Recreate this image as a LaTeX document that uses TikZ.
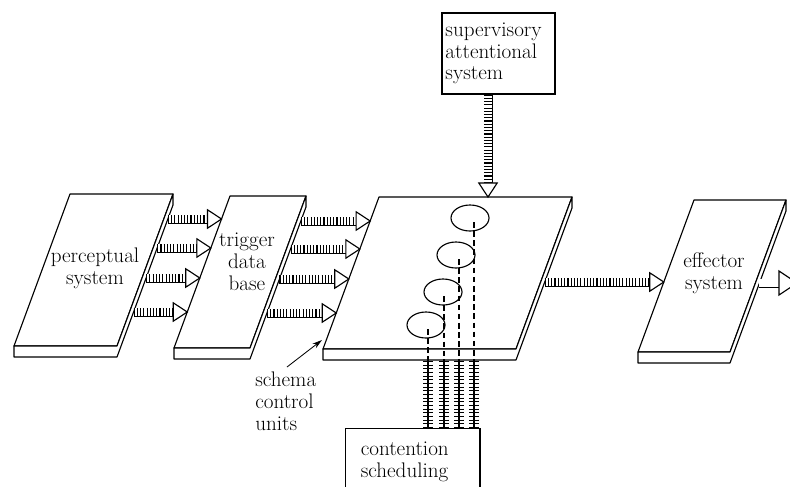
\documentclass[tikz,border=0pt]{standalone}
\usepackage{tikz}
\usetikzlibrary{arrows.meta, calc, shapes.geometric}

\tikzset{
  slabline/.style={line width=0.8pt, fill=white, line join=round},
  pipeline/.style={double distance=5pt, line width=0.7pt},
  pipeticks/.style={line width=5pt, dash pattern=on 0.8pt off 1.5pt},
  pipehead/.style={line width=0.8pt, fill=white, line join=miter},
  ladder/.style={line width=6.5pt, dash pattern=on 0.6pt off 2pt},
  unit/.style={ellipse, draw, line width=0.8pt, minimum width=0.95cm, minimum height=0.65cm, inner sep=0pt},
  box/.style={draw, line width=0.8pt, align=left, inner sep=0pt, font=\fontsize{15}{15.5}\selectfont},
  txt/.style={font=\fontsize{15}{15.5}\selectfont, align=center, inner sep=0pt},
}

% a flat board seen from above: name, x and y of the far left corner, width
\newcommand{\slab}[4]{%
  \coordinate (#1-tl) at (#2,#3);
  \coordinate (#1-tr) at (#2+#4,#3);
  \coordinate (#1-bl) at (#2-56,#3+152);
  \coordinate (#1-br) at (#2+#4-56,#3+152);
  \draw[slabline] (#1-tl) -- (#1-tr) -- (#1-br) -- (#1-bl) -- cycle;
  \draw[slabline] (#1-bl) -- ++(0,11) -- ($(#1-br)+(0,11)$) -- ($(#1-tr)+(0,11)$)
    -- (#1-tr) -- (#1-br) -- cycle;
}

% hatched pipe with an open head: from, tip
\newcommand{\pipe}[2]{%
  \coordinate (hb) at ($(#2)!0.35cm!(#1)$);
  \draw[pipeline] (#1) -- (hb);
  \draw[pipeticks] (#1) -- (hb);
  \draw[pipehead] ($(hb)!0.23cm!90:(#2)$) -- (#2) -- ($(hb)!0.23cm!-90:(#2)$) -- cycle;
}

\begin{document}
\begin{tikzpicture}[x=0.025cm, y=-0.025cm]
  \useasboundingbox (0,0) rectangle (790,487);
  \clip (0,0) rectangle (790,487);

  \slab{per}{70}{194}{103}
  \slab{trg}{230}{196}{76}
  \slab{sch}{379}{197}{193}
  \slab{eff}{694}{200}{92}

  \node[txt] (perl) at (95,268) {perceptual\\system};
  \node[txt] (trgl) at (247,262) {trigger\\data\\base};
  \node[txt] (effl) at (714,273) {effector\\system};

  % perceptual -> trigger
  \foreach \y [count=\i] in {219,248,278,312} {
    \coordinate (pa\i) at ({173-56*(\y-205)/152},\y);
    \coordinate (pb\i) at ({230-56*(\y-196)/152},\y);
    \pipe{pa\i}{pb\i}
  }
  % trigger -> schemas
  \foreach \y [count=\i] in {221,249,279,313} {
    \coordinate (ta\i) at ({306-56*(\y-207)/152},\y);
    \coordinate (tb\i) at ({379-56*(\y-197)/152},\y);
    \pipe{ta\i}{tb\i}
  }
  % schemas -> effector
  \coordinate (sa) at ({572-56*(282-208)/152},282);
  \coordinate (sb) at ({694-56*(282-200)/152},282);
  \pipe{sa}{sb}

  % effector output
  \coordinate (ea) at ({786-56*(283-211)/152},283);
  \coordinate (ehb) at (779,283);
  \coordinate (eb) at (797,283);
  \draw[pipeline] (ea) -- (ehb);
  \draw[pipehead] ($(ehb)+(0,-12)$) -- (eb) -- ($(ehb)+(0,12)$) -- cycle;

  % supervisory attentional system
  \node[box, minimum width=2.825cm, minimum height=2.025cm, text width=2.65cm]
    (sup) at (498.5,53.5) {supervisory\\attentional\\system};
  \coordinate (st) at (488,197);
  \pipe{st |- sup.south}{st}

  % schema control units
  \foreach \ex/\ey/\lx [count=\i] in {470/218/474, 456/255/459, 443/292/444, 426/325/428} {
    \node[unit] (u\i) at (\ex,\ey) {};
    \coordinate (d\i) at (\lx,\ey+4);
    \draw[line width=0.8pt, dash pattern=on 4pt off 2.5pt] (d\i) -- (d\i |- 0,359);
  }

  % contention scheduling
  \node[box, inner xsep=0.38cm, inner ysep=0.33cm, text width=2.6cm, anchor=north west]
    (cs) at (345,428) {contention\\scheduling};
  \foreach \i in {1,...,4} {
    \draw[line width=0.8pt] (d\i |- 0,359) -- (d\i |- cs.north);
    \draw[ladder] (d\i |- 0,361) -- (d\i |- cs.north);
  }

  \node[txt, align=left, anchor=north west] (scu) at (255,372) {schema\\control\\units};
  \coordinate (scut) at (322,340);
  \draw[-{Stealth[length=7pt, width=4pt]}, line width=0.6pt] ($(scu.north west)+(32,-5)$) -- (scut);
\end{tikzpicture}
\end{document}
